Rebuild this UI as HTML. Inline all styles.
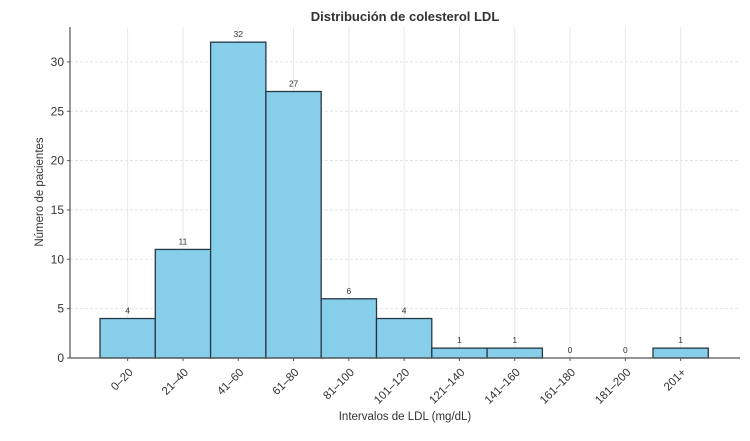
<!DOCTYPE html>
<html><head><meta charset="utf-8"><style>
body{margin:0;background:#fff}
svg text{font-family:"Liberation Sans","DejaVu Sans",sans-serif;fill:#333}
</style></head><body>
<svg id="chart" width="750" height="436">
<text x="405" y="21" text-anchor="middle" font-size="13" font-weight="bold" fill="#222">Distribución de colesterol LDL</text>
<g id="grid"></g><g id="bars"></g><g id="axes"></g>
<text x="405" y="420" text-anchor="middle" font-size="11.5">Intervalos de LDL (mg/dL)</text>
<text transform="translate(43,192) rotate(-90)" text-anchor="middle" font-size="11.5">Número de pacientes</text>
</svg>
<script>
const categories=["0–20","21–40","41–60","61–80","81–100","101–120","121–140","141–160","161–180","181–200","201+"];
const counts=[4,11,32,27,6,4,1,1,0,0,1];
const yTicks=[0,5,10,15,20,25,30];
const NS="http://www.w3.org/2000/svg";
const x0=100,bw=55.3,yZero=358,pxPer=9.87;
const xPos=i=>x0+i*bw;
const yPos=v=>yZero-v*pxPer;
function mk(t,a,p){const e=document.createElementNS(NS,t);for(const k in a)e.setAttribute(k,a[k]);p.appendChild(e);return e;}
const grid=document.getElementById('grid'),bars=document.getElementById('bars'),axes=document.getElementById('axes');
yTicks.forEach(v=>{
 const l=mk('line',{x1:70,x2:740,y1:yPos(v),y2:yPos(v),stroke:'#e3e3e3','stroke-dasharray':'3,2'},grid);
 
 
 const t=mk('text',{x:64,y:yPos(v)+4,'text-anchor':'end','font-size':12},axes);t.textContent=v;
 
 
 mk('line',{x1:67,x2:70,y1:yPos(v),y2:yPos(v),stroke:'#555'},axes);
});
categories.forEach((c,i)=>{
 const cx=xPos(i)+bw/2;
 const g=mk('line',{x1:cx,x2:cx,y1:27,y2:yZero,stroke:'#e8e8e8'},grid);
 
 
 const r=mk('rect',{x:xPos(i),y:yPos(counts[i]),width:bw,height:counts[i]*pxPer,fill:'#87ceeb',stroke:'#263846','stroke-width':1.3},bars);
 
 
 const vt=mk('text',{x:cx,y:yPos(counts[i])-5,'text-anchor':'middle','font-size':8.5},bars);vt.textContent=counts[i];
 
 
 mk('line',{x1:cx,x2:cx,y1:yZero,y2:yZero+3,stroke:'#555'},axes);
 const t=mk('text',{transform:`translate(${cx+6},${yZero+15}) rotate(-45)`,'text-anchor':'end','font-size':11.5},axes);t.textContent=c;
 
 
});
const ya=mk('line',{x1:70,x2:70,y1:27,y2:yZero,stroke:'#555','stroke-width':1.2},axes);


const xa=mk('line',{x1:70,x2:740,y1:yZero,y2:yZero,stroke:'#555','stroke-width':1.2},axes);


</script>
</body></html>
